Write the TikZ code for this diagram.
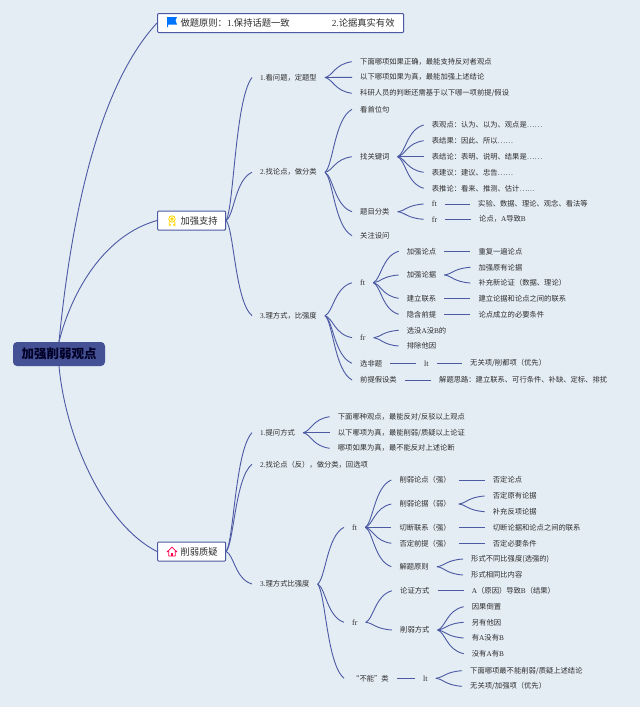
\documentclass[tikz,border=0pt]{standalone}
\usepackage{fontspec}
\setmainfont{Liberation Serif}
\newfontfamily\cjk{Noto Sans CJK SC}
\usetikzlibrary{calc}
\definecolor{paper}{HTML}{E4ECF4}
\definecolor{twigblue}{HTML}{4C5AA4}
\definecolor{inkgrey}{HTML}{2E2E2E}
\tikzset{
  twig/.style={twigblue, line width=.9pt},
  bow/.style={to path={let \p1=(\tikztostart), \p2=(\tikztotarget) in
    .. controls ({\x1+.3*(\x2-\x1)},{\y1+.1*(\y2-\y1)}) and ({\x1+.35*(\x2-\x1)},{\y1+.85*(\y2-\y1)}) .. (\tikztotarget)}},
  leaf/.style={anchor=west, inner xsep=8pt, inner ysep=1pt, text=inkgrey, font=\fontsize{7.3}{9}\selectfont\cjk},
  tag/.style={leaf, font=\fontsize{8}{9}\selectfont\rmfamily},
  box/.style={anchor=west, draw=twigblue, line width=1pt, fill=white, rounded corners=1pt, inner xsep=8pt, inner ysep=0pt,
    minimum height=19pt, text=inkgrey, font=\fontsize{9.3}{11}\selectfont\cjk},
}
\begin{document}
\begin{tikzpicture}[x=1pt, y=-1pt]
  \fill[paper] (0,0) rectangle (640,707);

  \node[fill=twigblue!90!black, rounded corners=4pt, minimum width=92pt, minimum height=24pt, inner sep=0pt,
    text=black!85!blue, font=\fontsize{12.5}{14}\selectfont\cjk\bfseries] (root) at (59,354) {加强削弱观点};
  \node[box] (rule) at (157,23) {\hspace*{15pt}做题原则：\textrm{1.}保持话题一致\hspace{42pt}\textrm{2.}论据真实有效\hspace*{1pt}};
  \node[box] (back) at (157,220.5) {\hspace*{15pt}加强支持};
  \node[box] (doubt) at (157,551.5) {\hspace*{15pt}削弱质疑};

  % icons
  \fill[blue!55!cyan] (167,17) -- (177,17) -- (175.5,20.5) -- (177,24.5) -- (168,24.5) -- (168,27) -- (167,27) -- cycle;
  \draw[yellow!75!orange, line width=.9pt] (172,219) circle (3.2pt) (172,219) circle (1.2pt)
    (169.2,222) -- (169.2,225.5) -- (171,224.5) (174.8,222) -- (174.8,225.5) -- (173,224.5);
  \draw[red!70!magenta, line width=.8pt] (167,552) -- (172,547.2) -- (177,552) (168.8,551) -- (168.8,556) -- (175.2,556) -- (175.2,551);
  \fill[red!70!magenta] (171,553) rectangle (173,556);

  \draw[twig] (root.north) .. controls (70,230) and (95,90) .. (rule.west);
  \draw[twig] (root.north) .. controls (72,290) and (105,235) .. (back.west);
  \draw[twig] (root.south) .. controls (66,440) and (105,525) .. (doubt.west);

  % support branch
  \node[leaf] (a1) at (252,77.5) {\textrm{1.}看问题，定题型};
  \node[leaf] (a2) at (252,172.3) {\textrm{2.}找论点，做分类};
  \node[leaf] (a3) at (252,315.7) {\textrm{3.}理方式，比强度};

  \node[leaf] (a11) at (352,61.7) {下面哪项如果正确，最能支持反对者观点};
  \node[leaf] (a12) at (352,77.3) {以下哪项如果为真，最能加强上述结论};
  \node[leaf] (a13) at (352,93.3) {科研人员的判断还需基于以下哪一项前提/假设};

  \node[leaf] (a21) at (352,109.3) {看首位句};
  \node[leaf] (a22) at (352,156.7) {找关键词};
  \node[leaf] (a23) at (352,211.7) {题目分类};
  \node[leaf] (a24) at (352,235.7) {关注设问};
  \node[leaf] (a221) at (423.7,125) {表观点：认为、以为、观点是……};
  \node[leaf] (a222) at (423.7,140.7) {表结果：因此、所以……};
  \node[leaf] (a223) at (423.7,156.7) {表结论：表明、说明、结果是……};
  \node[leaf] (a224) at (423.7,172.3) {表建议：建议、忠告……};
  \node[leaf] (a225) at (423.7,188.3) {表推论：看来、推测、估计……};
  \node[tag] (a231) at (423.7,204) {ft};
  \node[tag] (a232) at (423.7,219.3) {fr};
  \node[leaf] (a233) at (470,204) {实验、数据、理论、观念、看法等};
  \node[leaf] (a234) at (471,219.3) {论点，\textrm{A}导致\textrm{B}};

  \node[tag] (a31) at (352,282.7) {ft};
  \node[tag] (a32) at (352,337.7) {fr};
  \node[leaf] (a33) at (352,363.3) {选非题};
  \node[leaf] (a34) at (352,380) {前提假设类};
  \node[leaf] (a311) at (398.7,251.3) {加强论点};
  \node[leaf] (a312) at (398.7,275) {加强论据};
  \node[leaf] (a313) at (398.7,298.3) {建立联系};
  \node[leaf] (a314) at (398.7,314.3) {隐含前提};
  \node[leaf] (a315) at (470.3,251.3) {重复一遍论点};
  \node[leaf] (a316) at (470.3,267.3) {加强原有论据};
  \node[leaf] (a317) at (470.3,283) {补充新论证（数据、理论）};
  \node[leaf] (a318) at (470.3,298.3) {建立论据和论点之间的联系};
  \node[leaf] (a319) at (470.3,314.3) {论点成立的必要条件};
  \node[leaf] (a321) at (398.7,330.3) {选没\textrm{A}没\textrm{B}的};
  \node[leaf] (a322) at (398.7,346) {排除他因};
  \node[tag] (a331) at (416,363.3) {lt};
  \node[leaf] (a332) at (462,363.3) {无关项/削都项（优先）};
  \node[leaf] (a341) at (431,380) {解题思路：建立联系、可行条件、补缺、定标、排扰};

  \draw[twig] (back.east) to[bow] (a1.west);
  \draw[twig] (back.east) to[bow] (a2.west);
  \draw[twig] (back.east) to[bow] (a3.west);
  \draw[twig] (a1.east) to[bow] (a11.west);
  \draw[twig] (a1.east) -- (a12.west);
  \draw[twig] (a1.east) to[bow] (a13.west);
  \draw[twig] (a2.east) to[bow] (a21.west);
  \draw[twig] (a2.east) to[bow] (a22.west);
  \draw[twig] (a2.east) to[bow] (a23.west);
  \draw[twig] (a2.east) to[bow] (a24.west);
  \draw[twig] (a22.east) to[bow] (a221.west);
  \draw[twig] (a22.east) to[bow] (a222.west);
  \draw[twig] (a22.east) -- (a223.west);
  \draw[twig] (a22.east) to[bow] (a224.west);
  \draw[twig] (a22.east) to[bow] (a225.west);
  \draw[twig] (a23.east) to[bow] (a231.west);
  \draw[twig] (a23.east) to[bow] (a232.west);
  \draw[twig] (a231.east) -- (a233.west);
  \draw[twig] (a232.east) -- (a234.west);
  \draw[twig] (a3.east) to[bow] (a31.west);
  \draw[twig] (a3.east) to[bow] (a32.west);
  \draw[twig] (a3.east) to[bow] (a33.west);
  \draw[twig] (a3.east) to[bow] (a34.west);
  \draw[twig] (a31.east) to[bow] (a311.west);
  \draw[twig] (a31.east) to[bow] (a312.west);
  \draw[twig] (a31.east) to[bow] (a313.west);
  \draw[twig] (a31.east) to[bow] (a314.west);
  \draw[twig] (a311.east) -- (a315.west);
  \draw[twig] (a312.east) to[bow] (a316.west);
  \draw[twig] (a312.east) to[bow] (a317.west);
  \draw[twig] (a313.east) -- (a318.west);
  \draw[twig] (a314.east) -- (a319.west);
  \draw[twig] (a32.east) to[bow] (a321.west);
  \draw[twig] (a32.east) to[bow] (a322.west);
  \draw[twig] (a33.east) -- (a331.west);
  \draw[twig] (a331.east) -- (a332.west);
  \draw[twig] (a34.east) -- (a341.west);

  % doubt branch
  \node[leaf] (b1) at (252,432.7) {\textrm{1.}提问方式};
  \node[leaf] (b2) at (252,464.3) {\textrm{2.}找论点（反），做分类，回选项};
  \node[leaf] (b3) at (252,584) {\textrm{3.}理方式比强度};

  \node[leaf] (b11) at (329.7,416.7) {下面哪种观点，最能反对/反驳以上观点};
  \node[leaf] (b12) at (329.7,432.7) {以下哪项为真，最能削弱/质疑以上论证};
  \node[leaf] (b13) at (329.7,448.3) {哪项如果为真，最不能反对上述论断};

  \node[tag] (b31) at (344,527.3) {ft};
  \node[tag] (b32) at (344,622.3) {fr};
  \node[leaf] (b33) at (344,678.3) {“不能”类};
  \node[leaf] (b311) at (391.3,480) {削弱论点（强）};
  \node[leaf] (b312) at (391.3,504) {削弱论据（弱）};
  \node[leaf] (b313) at (391.3,527.3) {切断联系（强）};
  \node[leaf] (b314) at (391.3,543.3) {否定前提（强）};
  \node[leaf] (b315) at (391.3,566.7) {解题原则};
  \node[leaf] (b316) at (484.7,480) {否定论点};
  \node[leaf] (b317) at (484.7,496) {否定原有论据};
  \node[leaf] (b318) at (484.7,511.7) {补充反项论据};
  \node[leaf] (b319) at (484.7,527.3) {切断论据和论点之间的联系};
  \node[leaf] (b320) at (484.7,543.3) {否定必要条件};
  \node[leaf] (b321) at (463,559) {形式不同比强度(选强的)};
  \node[leaf] (b322) at (463,575) {形式相同比内容};
  \node[leaf] (b323) at (392,590.7) {论证方式};
  \node[leaf] (b324) at (392,630) {削弱方式};
  \node[leaf] (b325) at (463.7,590.7) {\textrm{A}（原因）导致\textrm{B}（结果）};
  \node[leaf] (b326) at (463.7,606.7) {因果倒置};
  \node[leaf] (b327) at (463.7,622.3) {另有他因};
  \node[leaf] (b328) at (463.7,638) {有\textrm{A}没有\textrm{B}};
  \node[leaf] (b329) at (463.7,653.7) {没有\textrm{A}有\textrm{B}};
  \node[tag] (b331) at (415,678.3) {lt};
  \node[leaf] (b332) at (462,670.7) {下面哪项最不能削弱/质疑上述结论};
  \node[leaf] (b333) at (462,686.3) {无关项/加强项（优先）};

  \draw[twig] (doubt.east) to[bow] (b1.west);
  \draw[twig] (doubt.east) to[bow] (b2.west);
  \draw[twig] (doubt.east) to[bow] (b3.west);
  \draw[twig] (b1.east) to[bow] (b11.west);
  \draw[twig] (b1.east) -- (b12.west);
  \draw[twig] (b1.east) to[bow] (b13.west);
  \draw[twig] (b3.east) to[bow] (b31.west);
  \draw[twig] (b3.east) to[bow] (b32.west);
  \draw[twig] (b3.east) to[bow] (b33.west);
  \draw[twig] (b31.east) to[bow] (b311.west);
  \draw[twig] (b31.east) to[bow] (b312.west);
  \draw[twig] (b31.east) -- (b313.west);
  \draw[twig] (b31.east) to[bow] (b314.west);
  \draw[twig] (b31.east) to[bow] (b315.west);
  \draw[twig] (b311.east) -- (b316.west);
  \draw[twig] (b312.east) to[bow] (b317.west);
  \draw[twig] (b312.east) to[bow] (b318.west);
  \draw[twig] (b313.east) -- (b319.west);
  \draw[twig] (b314.east) -- (b320.west);
  \draw[twig] (b315.east) to[bow] (b321.west);
  \draw[twig] (b315.east) to[bow] (b322.west);
  \draw[twig] (b32.east) to[bow] (b323.west);
  \draw[twig] (b32.east) to[bow] (b324.west);
  \draw[twig] (b323.east) -- (b325.west);
  \draw[twig] (b324.east) to[bow] (b326.west);
  \draw[twig] (b324.east) to[bow] (b327.west);
  \draw[twig] (b324.east) to[bow] (b328.west);
  \draw[twig] (b324.east) to[bow] (b329.west);
  \draw[twig] (b33.east) -- (b331.west);
  \draw[twig] (b331.east) to[bow] (b332.west);
  \draw[twig] (b331.east) to[bow] (b333.west);
\end{tikzpicture}
\end{document}
